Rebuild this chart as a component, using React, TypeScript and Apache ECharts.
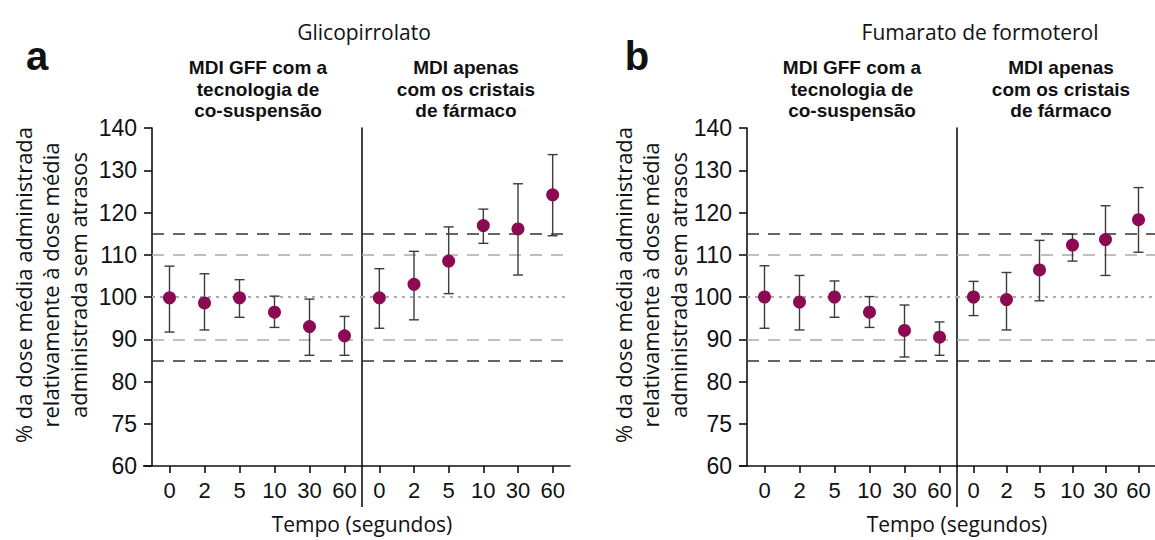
import React, { useEffect, useRef } from "react";
import * as echarts from "echarts";

const categories = ["0", "2", "5", "10", "30", "60"];
const yTicks = [60, 70, 80, 90, 100, 110, 120, 130, 140];
const yTickLabels = ["60", "75", "80", "90", "100", "110", "120", "130", "140"];

const glycoGFFMean = [99.8, 98.6, 99.8, 96.4, 93.0, 90.8];
const glycoGFFLow = [91.7, 92.2, 95.2, 92.8, 86.2, 86.2];
const glycoGFFHigh = [107.3, 105.5, 104.1, 100.2, 99.5, 95.4];
const glycoCrystalMean = [99.8, 103.0, 108.5, 116.9, 116.1, 124.2];
const glycoCrystalLow = [92.6, 94.6, 100.8, 112.7, 105.2, 114.5];
const glycoCrystalHigh = [106.7, 110.8, 116.6, 120.8, 126.8, 133.7];

const formoGFFMean = [100.0, 98.8, 100.0, 96.4, 92.1, 90.5];
const formoGFFLow = [92.6, 92.2, 95.2, 92.8, 85.8, 86.2];
const formoGFFHigh = [107.4, 105.1, 103.8, 100.1, 98.1, 94.1];
const formoCrystalMean = [100.0, 99.4, 106.4, 112.3, 113.6, 118.3];
const formoCrystalLow = [95.6, 92.2, 99.1, 108.5, 105.1, 110.6];
const formoCrystalHigh = [103.7, 105.8, 113.4, 114.9, 121.6, 125.9];

const refLines = [
  { value: 115, color: "#333333", type: [12, 9], width: 1.6 },
  { value: 110, color: "#aaaaaa", type: [12, 9], width: 1.6 },
  { value: 100, color: "#aaaaaa", type: [3, 5], width: 2 },
  { value: 90, color: "#aaaaaa", type: [12, 9], width: 1.6 },
  { value: 85, color: "#333333", type: [12, 9], width: 1.6 },
];

const panels = [
  { mean: glycoGFFMean, low: glycoGFFLow, high: glycoGFFHigh, left: 152, width: 210, first: true },
  { mean: glycoCrystalMean, low: glycoCrystalLow, high: glycoCrystalHigh, left: 362, width: 208, first: false },
  { mean: formoGFFMean, low: formoGFFLow, high: formoGFFHigh, left: 747, width: 210, first: true },
  { mean: formoCrystalMean, low: formoCrystalLow, high: formoCrystalHigh, left: 957, width: 208, first: false },
];

const MARKER = "#8b0a52";
const BAR = "#3c3c3c";
const TITLE_FONT = "'Open Sans', 'Noto Sans', sans-serif";
const TICK_FONT = "'Liberation Sans', Arial, sans-serif";

export default function App() {
  const ref = useRef<HTMLDivElement>(null);
  useEffect(() => {
    if (!ref.current) return;
    const chart = echarts.init(ref.current, undefined, { renderer: "svg" });

    const grid: any[] = [];
    const xAxis: any[] = [];
    const yAxis: any[] = [];
    const series: any[] = [];

    panels.forEach((p, i) => {
      grid.push({ left: p.left, width: p.width, top: 128, height: 338, containLabel: false });
      xAxis.push({
        type: "category",
        gridIndex: i,
        data: categories,
        boundaryGap: true,
        axisLine: { show: true, lineStyle: { color: "#111", width: 1.6 } },
        axisTick: { show: true, alignWithLabel: true, length: 7, inside: false, lineStyle: { color: "#111", width: 1.6 } },
        axisLabel: { show: true, fontSize: 22, fontFamily: TICK_FONT, color: "#111", margin: 13, interval: 0 },
        splitLine: { show: false },
      });
      yAxis.push({
        type: "value",
        gridIndex: i,
        min: 60,
        max: 140,
        interval: 10,
        axisLine: { show: true, lineStyle: { color: "#111", width: 1.6 } },
        axisTick: { show: p.first, length: 8, lineStyle: { color: "#111", width: 1.6 } },
        axisLabel: {
          show: p.first,
          fontSize: 23,
          fontFamily: TICK_FONT,
          color: "#111",
          margin: 15,
          formatter: (v: number) => {
            const k = yTicks.indexOf(Math.round(v));
            return k >= 0 ? yTickLabels[k] : "";
          },
        },
        splitLine: { show: false },
      });
      const barData = p.mean.map((m, k) => [k, m, p.low[k], p.high[k]]);
      series.push({
        type: "custom",
        xAxisIndex: i,
        yAxisIndex: i,
        data: barData,
        encode: { x: 0, y: [1, 2, 3] },
        clip: false,
        z: 3,
        renderItem: (params: any, api: any) => {
          const x = api.value(0);
          const lo = api.coord([x, api.value(2)]);
          const hi = api.coord([x, api.value(3)]);
          const cap = 5;
          const style = { stroke: BAR, lineWidth: 1.4 };
          return {
            type: "group",
            children: [
              { type: "line", shape: { x1: lo[0], y1: lo[1], x2: hi[0], y2: hi[1] }, style },
              { type: "line", shape: { x1: hi[0] - cap, y1: hi[1], x2: hi[0] + cap, y2: hi[1] }, style },
              { type: "line", shape: { x1: lo[0] - cap, y1: lo[1], x2: lo[0] + cap, y2: lo[1] }, style },
            ],
          };
        },
        markLine: {
          silent: true,
          symbol: "none",
          label: { show: false },
          z: 1,
          data: refLines.map((r) => ({
            yAxis: r.value,
            lineStyle: { color: r.color, type: r.type, width: r.width },
          })),
        },
      });
      series.push({
        type: "scatter",
        xAxisIndex: i,
        yAxisIndex: i,
        data: p.mean.map((m, k) => [k, m]),
        symbol: "circle",
        symbolSize: 13,
        itemStyle: { color: MARKER, opacity: 1 },
        z: 5,
      });
    });

    const text = (x: number, y: number, t: string, font: any) => ({
      type: "text",
      x,
      y,
      silent: true,
      style: {
        text: t,
        fill: "#111",
        textAlign: "center",
        textVerticalAlign: "middle",
        align: "center",
        verticalAlign: "middle",
        ...font,
      },
    });

    const titleFont = { fontSize: 21, fontFamily: TITLE_FONT, fontWeight: 400 };
    const subFont = { fontSize: 19, fontFamily: TICK_FONT, fontWeight: 700, lineHeight: 21.6 };
    const axisTitleFont = { fontSize: 22, fontFamily: TITLE_FONT, fontWeight: 400, lineHeight: 27.5 };
    const tempoFont = { fontSize: 21, fontFamily: TITLE_FONT, fontWeight: 400 };
    const letterFont = { fontSize: 40, fontFamily: TICK_FONT, fontWeight: 700 };
    const yTitle = "% da dose média administrada\nrelativamente à dose média\nadministrada sem atrasos";

    const graphic: any[] = [
      text(364, 32, "Glicopirrolato", titleFont),
      text(980, 32, "Fumarato de formoterol", titleFont),
      text(37, 56, "a", letterFont),
      text(637, 56, "b", letterFont),
      text(258, 89, "MDI GFF com a\ntecnologia de\nco-suspensão", subFont),
      text(466, 89, "MDI apenas\ncom os cristais\nde fármaco", subFont),
      text(852, 89, "MDI GFF com a\ntecnologia de\nco-suspensão", subFont),
      text(1061, 89, "MDI apenas\ncom os cristais\nde fármaco", subFont),
      { ...text(50, 285, yTitle, axisTitleFont), rotation: Math.PI / 2 },
      { ...text(650, 285, yTitle, axisTitleFont), rotation: Math.PI / 2 },
      text(362, 524, "Tempo (segundos)", tempoFont),
      text(957, 524, "Tempo (segundos)", tempoFont),
      { type: "line", silent: true, shape: { x1: 362, y1: 466, x2: 362, y2: 507 }, style: { stroke: "#111", lineWidth: 1.6 } },
      { type: "line", silent: true, shape: { x1: 957, y1: 466, x2: 957, y2: 507 }, style: { stroke: "#111", lineWidth: 1.6 } },
      { type: "line", silent: true, shape: { x1: 143, y1: 466, x2: 152, y2: 466 }, style: { stroke: "#111", lineWidth: 1.6 } },
      { type: "line", silent: true, shape: { x1: 739, y1: 466, x2: 747, y2: 466 }, style: { stroke: "#111", lineWidth: 1.6 } },
    ];

    chart.setOption({
      animation: false,
      backgroundColor: "#ffffff",
      grid,
      xAxis,
      yAxis,
      series,
      graphic,
    });
    return () => chart.dispose();
  }, []);
  return (
    <div
      ref={ref}
      style={{ position: "absolute", left: 0, top: 0, width: 1155, height: 540, background: "#fff" }}
    />
  );
}
